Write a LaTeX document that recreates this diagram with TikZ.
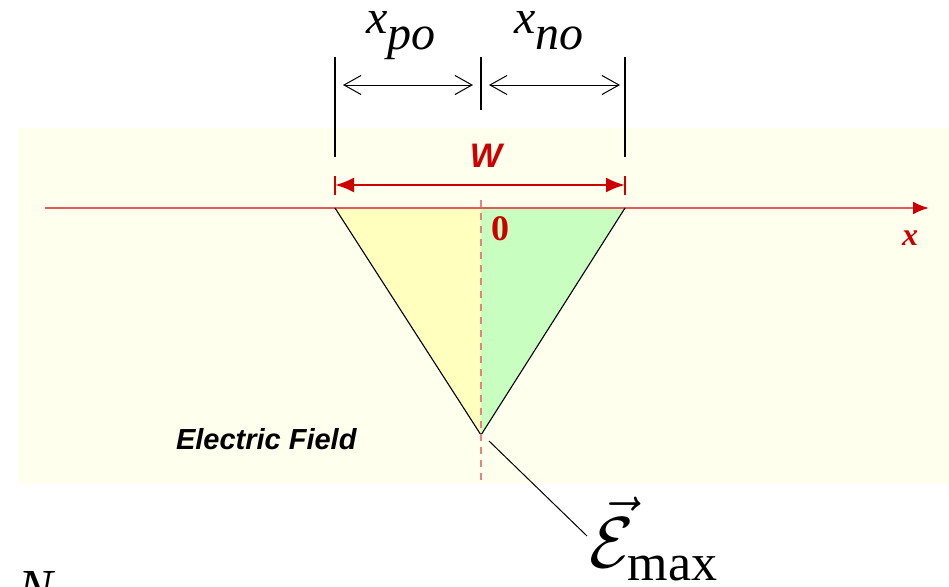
\documentclass[tikz,border=0pt]{standalone}
\usepackage{fontspec}
\usepackage{graphicx}
\newfontfamily\arialfont{Liberation Sans}
\newfontfamily\timesfont{Liberation Serif}
\usetikzlibrary{arrows.meta}
\definecolor{bgcream}{RGB}{255,255,238}
\definecolor{axisred}{RGB}{228,90,90}
\definecolor{labred}{RGB}{204,0,0}
\definecolor{pside}{RGB}{255,255,190}
\definecolor{nside}{RGB}{200,255,192}
\definecolor{dashred}{RGB}{232,130,130}

\begin{document}
\begin{tikzpicture}[x=1pt, y=-1pt,
  lab/.style={inner sep=0pt, outer sep=0pt},
  bigmath/.style={lab, font=\fontsize{48}{54}\selectfont\timesfont\itshape},
  redlab/.style={lab, text=labred},
  extline/.style={line width=1.1pt},
  blackdim/.style={line width=1pt, {Straight Barb[length=17pt,width=19pt]}-{Straight Barb[length=17pt,width=19pt]}},
  reddim/.style={labred, line width=2.4pt, {Latex[length=19pt,width=15pt]}-{Latex[length=19pt,width=15pt]}},
  >=Stealth]
\useasboundingbox (0,0) rectangle (949,586);
\fill[bgcream] (18,128) rectangle (949,483);
\coordinate (L) at (335,208);
\coordinate (R) at (625,208);
\coordinate (O) at (481,208);
\coordinate (B) at (481,435);
\fill[pside] (L) -- (O) -- (B) -- cycle;
\fill[nside] (O) -- (R) -- (B) -- cycle;
\coordinate (axL) at (45,208);
\coordinate (axR) at (929,208);
\draw[axisred, line width=2.4pt, -{Latex[length=16pt,width=13pt,color=labred]}] (axL) -- (axR);
\draw[line width=1.1pt] (L) -- (B) -- (R);
\coordinate (dashT) at (481,200);
\coordinate (dashB) at (481,480);
\draw[dashred, line width=2.2pt, dash pattern=on 7pt off 6pt] (dashT) -- (dashB);
\coordinate (extLt) at (335,57);
\coordinate (extLb) at (335,157);
\coordinate (extMt) at (481,57);
\coordinate (extMb) at (481,110);
\coordinate (extRt) at (625,57);
\coordinate (extRb) at (625,157);
\draw[extline] (extLt) -- (extLb);
\draw[extline] (extMt) -- (extMb);
\draw[extline] (extRt) -- (extRb);
\coordinate (pA) at (343,85);
\coordinate (pB) at (473,85);
\coordinate (nA) at (489,85);
\coordinate (nB) at (620,85);
\draw[blackdim] (pA) -- (pB);
\draw[blackdim] (nA) -- (nB);
\node[bigmath, anchor=base west] (xpo) at (366,34) {x\raisebox{-16pt}{po}};
\node[bigmath, anchor=base west] (xno) at (514,34) {x\raisebox{-16pt}{no}};
\coordinate (wA) at (335,185);
\coordinate (wB) at (625,185);
\draw[labred, line width=2.2pt] (335,176) -- (335,195);
\draw[labred, line width=2.2pt] (625,176) -- (625,195);
\draw[reddim] (wA) -- (wB);
\node[redlab, anchor=base, font=\fontsize{34}{38}\selectfont\arialfont\bfseries\itshape] (wlab) at (486,167) {W};
\node[redlab, anchor=base west, font=\fontsize{36}{40}\selectfont\timesfont\bfseries] (zero) at (491,240) {0};
\node[redlab, anchor=base west, font=\fontsize{32}{36}\selectfont\timesfont\bfseries\itshape] (xlab) at (902,245) {x};
\node[lab, anchor=base west, font=\fontsize{29}{32}\selectfont\arialfont\bfseries\itshape] (efield) at (176,449) {Electric Field};
\node[lab, anchor=base west, font=\fontsize{52}{58}\selectfont] (emax) at (589,567) {\scalebox{2.9}{$\vec{\mathcal{E}}$}\hspace{-6pt}\raisebox{-13pt}{\timesfont max}};
\coordinate (leadA) at (489,441);
\coordinate (leadB) at (587,536);
\draw[line width=1pt] (leadA) -- (leadB);
\node[lab, anchor=base west, font=\fontsize{52}{58}\selectfont\timesfont\itshape] (nfrag) at (18,605) {N};
\end{tikzpicture}
\end{document}
